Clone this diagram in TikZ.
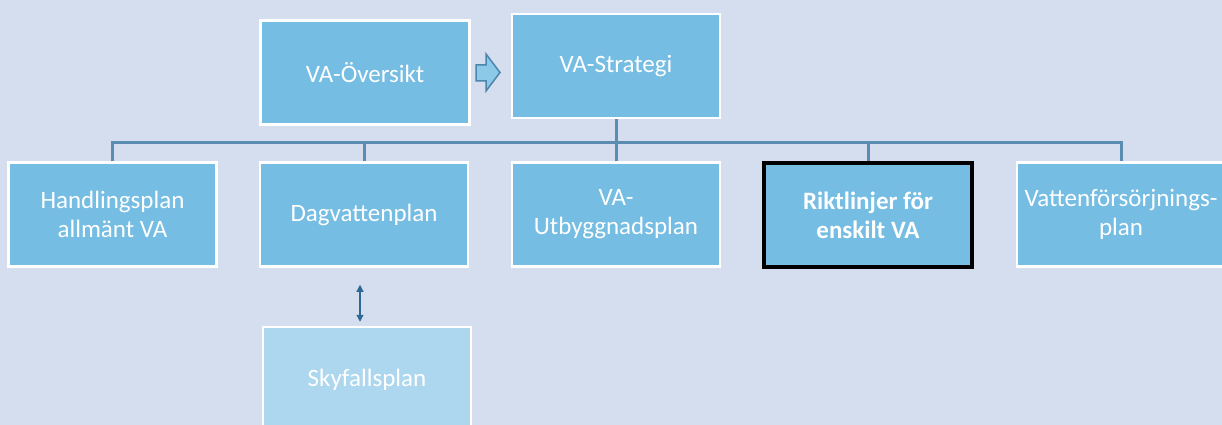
\documentclass[tikz,border=0pt]{standalone}
\usepackage{fontspec}
\setmainfont{Carlito}
\usetikzlibrary{arrows.meta,calc}
\definecolor{bg}{HTML}{D5DEEE}
\definecolor{boxfill}{HTML}{75BDE3}
\definecolor{lightfill}{HTML}{ADD7EF}
\definecolor{conncol}{HTML}{5B8DB3}
\definecolor{arrowfill}{HTML}{8CC8E8}
\definecolor{arrowline}{HTML}{4A86AE}
\definecolor{dblcol}{HTML}{2E6A94}
\tikzset{
  box/.style={draw=white, line width=2.5pt, fill=boxfill, text=white, align=center,
    minimum width=208pt, minimum height=104pt, inner sep=0pt,
    font=\fontsize{25}{29}\selectfont},
  keybox/.style={box, draw=black, line width=4pt, font=\fontsize{25}{29}\selectfont\bfseries},
  lightbox/.style={box, fill=lightfill},
  conn/.style={draw=conncol, line width=3pt},
  dbl/.style={draw=dblcol, line width=1.2pt, {Triangle[length=7pt,width=7pt]}-{Triangle[length=7pt,width=7pt]}}
}
\begin{document}
\begin{tikzpicture}[x=1pt,y=-1pt]
\useasboundingbox (0,0) rectangle (1222,425);
\fill[bg] (0,0) rectangle (1222,425);
\clip (0,0) rectangle (1222,425);
\node[box, minimum width=209pt, minimum height=104pt] (ov) at (365,72.5) {VA-Översikt};
\node[box] (strat) at (616,66) {VA-Strategi};
\node[box] (hand) at (112.5,214.5) {Handlingsplan\\allmänt VA};
\node[box] (dag) at (364,214.5) {Dagvattenplan};
\node[box] (utb) at (616,214.5) {VA-\\Utbyggnadsplan};
\node[keybox] (rikt) at (868,215) {Riktlinjer för\\enskilt VA};
\node[box] (vatt) at (1121,214.5) {Vattenförsörjnings-\\plan};
\node[lightbox, minimum height=105pt] (sky) at (367,379.5) {Skyfallsplan};
% block arrow between VA-Översikt and VA-Strategi
\draw[arrowline, fill=arrowfill, line width=1.5pt, line join=miter]
  (476,65) -- (486,65) -- (486,54) -- (500,72.5) -- (486,91) -- (486,81) -- (476,81) -- cycle;
% tree connectors
\coordinate (bus) at (616,142);
\draw[conn] (strat.south) -- (bus);
\draw[conn] (hand.north) |- (bus) -| (vatt.north);
\draw[conn] (dag.north) -- (dag.north |- bus);
\draw[conn] (utb.north) -- (bus);
\draw[conn] (rikt.north) -- (rikt.north |- bus);
% double arrow between Dagvattenplan and Skyfallsplan
\draw[dbl] ($(dag.south)+(-4,17)$) -- ($(dag.south)+(-4,54)$);
\end{tikzpicture}
\end{document}
